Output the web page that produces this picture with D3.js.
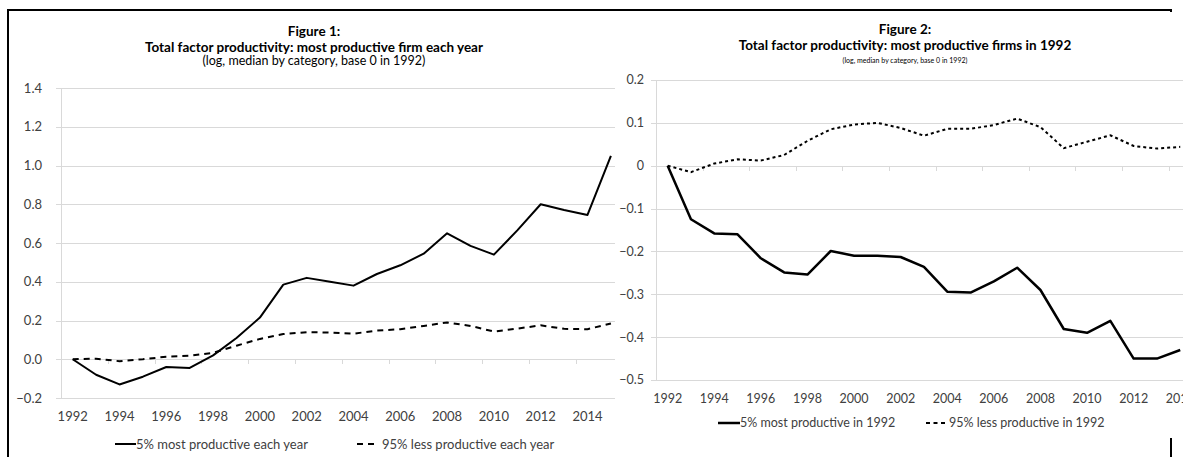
<!DOCTYPE html>
<html><head><meta charset="utf-8">
<script src="https://cdn.jsdelivr.net/npm/d3@7"></script>
<style>
html,body{margin:0;padding:0;background:#fff;}
svg{display:block;font-family:Lato,"Open Sans",sans-serif;}
</style></head>
<body>
<svg id="chart" width="1183" height="457"></svg>
<script>
// ---------- data ----------
const categories = [1992,1993,1994,1995,1996,1997,1998,1999,2000,2001,2002,2003,2004,2005,2006,2007,2008,2009,2010,2011,2012,2013,2014,2015];
const tickLabels = [1992,1994,1996,1998,2000,2002,2004,2006,2008,2010,2012,2014];

// Figure 1
const fig1Top = [0,-0.08,-0.13,-0.09,-0.04,-0.045,0.02,0.11,0.215,0.385,0.42,0.40,0.38,0.44,0.485,0.545,0.65,0.585,0.54,0.665,0.80,0.77,0.745,1.05];
const fig1Rest = [0,0.003,-0.01,0.0,0.013,0.018,0.033,0.07,0.105,0.13,0.14,0.138,0.132,0.148,0.155,0.172,0.19,0.172,0.143,0.158,0.175,0.157,0.155,0.185];
const fig1Ticks = [-0.2,0,0.2,0.4,0.6,0.8,1.0,1.2,1.4];

// Figure 2 (last category cut off in the picture)
const fig2Top = [0,-0.125,-0.158,-0.16,-0.216,-0.249,-0.254,-0.199,-0.21,-0.21,-0.213,-0.236,-0.294,-0.296,-0.27,-0.238,-0.29,-0.381,-0.39,-0.362,-0.45,-0.45,-0.43];
const fig2Rest = [0,-0.015,0.005,0.015,0.012,0.025,0.058,0.085,0.096,0.1,0.088,0.07,0.086,0.086,0.095,0.11,0.09,0.041,0.056,0.071,0.046,0.04,0.044];
const fig2Ticks = [-0.5,-0.4,-0.3,-0.2,-0.1,0,0.1,0.2];

const svg = d3.select("#chart");
const GRID = "#d9d9d9", TXT = "#404040";

function panel(g, o) {
  const x = d3.scaleBand().domain(categories).range([o.left, o.left + o.step*categories.length]);
  const y = d3.scaleLinear().domain(o.domain).range([o.bottom, o.top]);
  const cx = d => x(d) + x.bandwidth()/2;
  const right = o.right;

  g.selectAll(null).data(o.ticks).enter().append("line")
    .attr("x1", o.left).attr("x2", right)
    .attr("y1", d => Math.round(y(d))+0.5).attr("y2", d => Math.round(y(d))+0.5)
    .attr("stroke", GRID).attr("stroke-width", 1);
  g.append("line").attr("x1", o.left+0.5).attr("x2", o.left+0.5)
    .attr("y1", y(o.domain[1])).attr("y2", y(o.domain[0])).attr("stroke", GRID);
  g.selectAll(null).data(o.ticks).enter().append("line")
    .attr("x1", o.left-5).attr("x2", o.left)
    .attr("y1", d => Math.round(y(d))+0.5).attr("y2", d => Math.round(y(d))+0.5)
    .attr("stroke", GRID);
  g.selectAll(null).data(o.ticks).enter().append("text")
    .attr("x", o.labelX).attr("y", d => y(d)).attr("dy", "0.35em")
    .attr("text-anchor", "end").attr("font-size", o.fs).attr("fill", TXT)
    .text(o.fmt);
  const y0 = Math.round(y(0));
  g.selectAll(null).data(categories.filter((c,i) => i % 2 === 0)).enter().append("line")
    .attr("x1", d => Math.round(x(d))+0.5).attr("x2", d => Math.round(x(d))+0.5)
    .attr("y1", y0).attr("y2", y0+5).attr("stroke", GRID);
  g.selectAll(null).data(tickLabels).enter().append("text")
    .attr("x", d => cx(d)).attr("y", o.xLabelY).attr("dy", "0.35em")
    .attr("text-anchor", "middle").attr("font-size", o.fs).attr("fill", TXT)
    .text(d => d);
  const line = d3.line().x((d,i) => cx(categories[i])).y(d => y(d));
  g.append("path").datum(o.top5).attr("d", line).attr("fill", "none")
    .attr("stroke", "#000").attr("stroke-width", o.sw).attr("stroke-linejoin", "round");
  g.append("path").datum(o.rest).attr("d", line).attr("fill", "none")
    .attr("stroke", "#000").attr("stroke-width", 2).attr("stroke-dasharray", o.dash);
  g.append("text").attr("x", o.tx).attr("y", o.titleY[0]).attr("text-anchor","middle")
    .attr("font-weight","bold").attr("font-size", 13.5).attr("fill","#000").text(o.fig);
  g.append("text").attr("x", o.tx).attr("y", o.titleY[1]).attr("text-anchor","middle")
    .attr("font-weight","bold").attr("font-size", 13.5).attr("fill","#000").text(o.title);
  g.append("text").attr("x", o.tx).attr("y", o.titleY[2]).attr("text-anchor","middle")
    .attr("font-size", o.subFs).attr("fill","#000").text("(log, median by category, base 0 in 1992)");
  const L = o.legend;
  g.append("line").attr("x1", L.x1).attr("x2", L.x1+L.len).attr("y1", L.y).attr("y2", L.y)
    .attr("stroke","#000").attr("stroke-width",o.sw);
  g.append("text").attr("x", L.x1+L.len).attr("y", L.y).attr("dy","0.35em")
    .attr("font-size", o.lfs).attr("fill", TXT).text(o.names[0]);
  g.append("line").attr("x1", L.x2).attr("x2", L.x2+L.len).attr("y1", L.y).attr("y2", L.y)
    .attr("stroke","#000").attr("stroke-width",2).attr("stroke-dasharray", L.dash);
  g.append("text").attr("x", L.x2+L.len+L.gap).attr("y", L.y).attr("dy","0.35em")
    .attr("font-size", o.lfs).attr("fill", TXT).text(o.names[1]);
}

// left panel
const gL = svg.append("g");
panel(gL, {
  left: 61, step: 23.4, right: 622, top: 88, bottom: 398, domain: [-0.2, 1.4],
  ticks: fig1Ticks, fmt: d => d3.format(".1f")(d), labelX: 42, fs: 13, lfs: 13, sw: 2,
  xLabelY: 416, top5: fig1Top, rest: fig1Rest, dash: "6,5",
  tx: 314, titleY: [36, 52, 65], subFs: 12.5,
  fig: "Figure 1:", title: "Total factor productivity: most productive firm each year",
  legend: {x1: 115, x2: 357, y: 444, len: 21, gap: 4, dash: "6,5"},
  names: ["5% most productive each year", "95% less productive each year"]
});

// border of the left screenshot
svg.append("line").attr("x1", 7).attr("x2", 1172).attr("y1", 10).attr("y2", 10).attr("stroke","#000").attr("stroke-width",2);
svg.append("line").attr("x1", 8).attr("x2", 8).attr("y1", 9).attr("y2", 457).attr("stroke","#000").attr("stroke-width",2);
svg.append("line").attr("x1", 1171).attr("x2", 1171).attr("y1", 9).attr("y2", 457).attr("stroke","#000").attr("stroke-width",2);

// right panel overlay
const gR = svg.append("g");
gR.append("rect").attr("x", 615).attr("y", 12).attr("width", 568).attr("height", 426).attr("fill", "#fff");
panel(gR, {
  left: 656, step: 23.3, right: 1183, top: 80, bottom: 380, domain: [-0.5, 0.2],
  ticks: fig2Ticks, fmt: d => d === 0 ? "0" : d3.format(".1f")(d), labelX: 644, fs: 12.5, lfs: 12.5, sw: 2.5,
  xLabelY: 399, top5: fig2Top, rest: fig2Rest, dash: "3,3",
  tx: 905, titleY: [34, 50, 63], subFs: 7,
  fig: "Figure 2:", title: "Total factor productivity: most productive firms in 1992",
  legend: {x1: 718, x2: 926, y: 423, len: 22, gap: 1, dash: "4,3.5"},
  names: ["5% most productive in 1992", "95% less productive in 1992"]
});
</script>
</body></html>
